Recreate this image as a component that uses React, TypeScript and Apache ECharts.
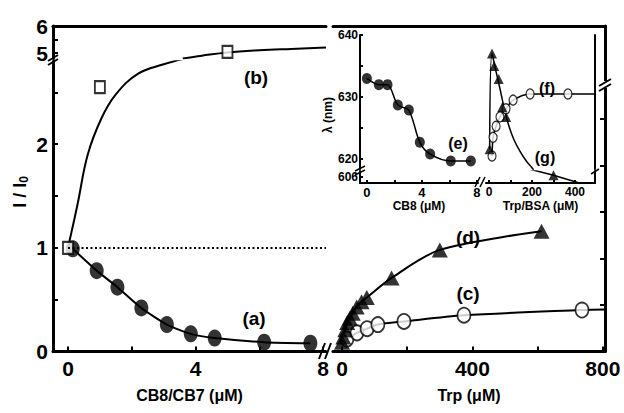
import React, { useEffect, useRef } from 'react';
import * as echarts from 'echarts';

// ---------- Main panel, left half: I/I0 vs CB8/CB7 (μM) ----------
const cbConcA = [0.15, 0.9, 1.55, 2.3, 3.1, 3.85, 4.6, 6.15, 7.6];
const seriesA = [0.99, 0.78, 0.62, 0.42, 0.26, 0.17, 0.13, 0.09, 0.08];
const cbConcB = [0, 1.0, 5.0];
const seriesB = [1, 2.55, 5.04];
const bFitLowerX = [0, 0.3, 0.62, 1.05, 1.5, 2.2, 3.0, 3.6];
const bFitLowerY = [1, 1.42, 1.9, 2.25, 2.48, 2.68, 2.77, 2.82];
const bFitUpperX = [3.6, 4.2, 5.0, 6.0, 7.0, 8.09];
const bFitUpperY = [4.8, 4.9, 5.02, 5.1, 5.15, 5.2];
const baseline = 1;

// ---------- Main panel, right half: I/I0 vs Trp (μM) ----------
const trpC = [15, 46, 77, 110, 190, 374, 736];
const seriesC = [0.12, 0.18, 0.22, 0.26, 0.29, 0.35, 0.40];
const cFitTailX = [806];
const cFitTailY = [0.405];
const trpD = [0, 4, 10, 16, 24, 33, 45, 60, 76, 152, 300, 612];
const seriesD = [0.09, 0.14, 0.21, 0.28, 0.32, 0.37, 0.43, 0.48, 0.52, 0.71, 0.98, 1.16];

// ---------- Inset: λ (nm) ----------
const cbConcE = [0, 0.87, 1.5, 2.25, 3.05, 3.85, 4.6, 6.1, 7.56];
const seriesE = [633, 632, 632, 628.7, 627.9, 622.7, 620.8, 619.7, 619.7];
const trpBsaF = [14, 19, 33, 51, 79, 112, 191, 367];
const seriesF = [620.5, 623.5, 625.3, 626.8, 628.1, 629.5, 630.5, 630.5];
const fFitTailX = [493];
const fFitTailY = [630.5];
const trpBsaG = [3, 14, 24, 45, 62, 80, 300];
const seriesG = [621.6, 637.0, 635.0, 632.9, 628.4, 626.8, 606.3];
const gFitUpperX = [3, 14, 30, 50, 70, 90, 115, 145, 175, 200, 210];
const gFitUpperY = [621.6, 637.0, 634.5, 631.5, 628.3, 625.6, 623.2, 621.2, 619.6, 618.6, 618.0];
const gFitLowerX = [190, 300, 420];
const gFitLowerY = [607.3, 606.3, 605.0];

// tick labels
const cbTicks = [0, 2, 4, 6, 8];
const cbLabels = [0, 4, 8];
const trpTicks = [0, 200, 400, 600, 800];
const trpLabels = [0, 400, 800];
const iLowTicks = [0, 0.5, 1, 1.5, 2, 2.5];
const iLowLabels = [0, 1, 2];
const iHighTicks = [5, 5.5, 6];
const iHighLabels = [5, 6];
const lamTicks = [620, 625, 630, 635, 640];
const lamLabels = [620, 630, 640];
const lamLowLabels = [606];
const insetCbTicks = [0, 2, 4, 6, 8];
const insetCbLabels = [0, 4, 8];
const insetTrpTicks = [0, 100, 200, 300, 400];
const insetTrpLabels = [0, 200, 400];

// axis ranges
const CB_MIN = -0.47, CB_MAX = 8.09;
const TRP_MIN = -27.6, TRP_MAX = 806.6;
const I_LOW_MAX = 2.8, I_HIGH_MIN = 4.8, I_HIGH_MAX = 6;
const LAM_MIN = 618.4, LAM_MAX = 640, LAM_LOW_MIN = 605, LAM_LOW_MAX = 607;
const ICB_MIN = -0.5, ICB_MAX = 8.08;
const ITRP_MIN = -14, ITRP_MAX = 493;

const FONT = '"Liberation Sans", Arial, sans-serif';
const K = '#000';

const zip = (xs: number[], ys: number[]) => xs.map((x, i) => [x, ys[i]]);

function axis(o: any) {
  const { lw = 3, tickLen = 5, ticks, labels, fs = 21, margin = 6, ...rest } = o;
  return {
    type: 'value',
    splitLine: { show: false },
    axisLine: { show: true, onZero: false, lineStyle: { color: K, width: lw } },
    axisTick: ticks
      ? { show: true, inside: true, length: tickLen, lineStyle: { color: K, width: 2 }, customValues: ticks }
      : { show: false },
    axisLabel: labels
      ? { show: true, customValues: labels, fontSize: fs, fontWeight: 'bold', color: K, fontFamily: FONT, margin }
      : { show: false },
    ...rest,
  };
}

const hidden = (gridIndex: number, min: number, max: number) => ({
  type: 'value', gridIndex, min, max, show: false, splitLine: { show: false },
});

const lineSeries = (xi: number, yi: number, data: number[][], width = 2, smooth: any = 0.3) => ({
  type: 'line', xAxisIndex: xi, yAxisIndex: yi, data, showSymbol: false, smooth,
  lineStyle: { color: K, width }, clip: true, silent: true, z: 2,
});

const scatter = (xi: number, yi: number, data: number[][], symbol: string, size: any, filled: boolean, bw = 2) => ({
  type: 'scatter', xAxisIndex: xi, yAxisIndex: yi, data, symbol, symbolSize: size, clip: true, silent: true, z: 3,
  itemStyle: filled ? { color: K } : { color: '#fff', borderColor: K, borderWidth: bw },
});

const inRange = (pts: number[][], lo: number, hi: number) => pts.filter((p) => p[1] >= lo && p[1] <= hi);

const txt = (x: number, y: number, text: string, size: number) => ({
  type: 'text', x, y, z: 10,
  style: { text, fontSize: size, fontWeight: 'bold', fontFamily: FONT, fill: K, align: 'center', verticalAlign: 'middle' },
});
const seg = (x1: number, y1: number, x2: number, y2: number, w = 2) => ({
  type: 'line', z: 10, shape: { x1, y1, x2, y2 }, style: { stroke: K, lineWidth: w },
});
const wrect = (x: number, y: number, width: number, height: number) => ({
  type: 'rect', z: 9, shape: { x, y, width, height }, style: { fill: '#fff' },
});

function buildOption() {
  const ptsA = zip(cbConcA, seriesA);
  const ptsB = zip(cbConcB, seriesB);
  const ptsC = zip(trpC, seriesC);
  const ptsD = zip(trpD, seriesD);
  const ptsE = zip(cbConcE, seriesE);
  const ptsF = zip(trpBsaF, seriesF);
  const ptsG = zip(trpBsaG, seriesG);
  const nameStyle = { fontSize: 16, fontWeight: 'bold', color: K, fontFamily: FONT };
  const insetName = { fontSize: 12, fontWeight: 'bold', color: K, fontFamily: FONT };

  return {
    animation: false,
    backgroundColor: '#fff',
    grid: [
      { left: 53, top: 61.2, width: 273, height: 290.3, outerBoundsMode: 'none' }, // 0 main lower-left
      { left: 53, top: 26, width: 273, height: 32.4, outerBoundsMode: 'none' }, // 1 main upper-left
      { left: 333, top: 61.2, width: 272, height: 290.3, outerBoundsMode: 'none' }, // 2 main lower-right
      { left: 333, top: 26, width: 272, height: 325.5, outerBoundsMode: 'none' }, // 3 right frame
      { left: 360, top: 35, width: 118, height: 134, outerBoundsMode: 'none' }, // 4 inset left upper
      { left: 360, top: 171, width: 118, height: 12, outerBoundsMode: 'none' }, // 5 inset left lower
      { left: 486, top: 35, width: 109, height: 134, outerBoundsMode: 'none' }, // 6 inset right upper
      { left: 486, top: 171, width: 109, height: 12, outerBoundsMode: 'none' }, // 7 inset right lower
    ],
    xAxis: [
      axis({ gridIndex: 0, min: CB_MIN, max: CB_MAX, position: 'bottom', ticks: cbTicks, labels: cbLabels,
        name: 'CB8/CB7 (μM)', nameLocation: 'middle', nameGap: 36, nameTextStyle: nameStyle }),
      axis({ gridIndex: 1, min: CB_MIN, max: CB_MAX, position: 'top' }),
      axis({ gridIndex: 2, min: TRP_MIN, max: TRP_MAX, position: 'bottom', ticks: trpTicks, labels: trpLabels,
        name: 'Trp (μM)', nameLocation: 'middle', nameGap: 36, nameTextStyle: nameStyle }),
      axis({ gridIndex: 3, min: 0, max: 1, position: 'top' }),
      hidden(4, ICB_MIN, ICB_MAX),
      axis({ gridIndex: 5, min: ICB_MIN, max: ICB_MAX, position: 'bottom', lw: 2, tickLen: 3, ticks: insetCbTicks,
        labels: insetCbLabels, fs: 13, margin: 3, name: 'CB8 (μM)', nameLocation: 'middle', nameGap: 17, nameTextStyle: insetName }),
      hidden(6, ITRP_MIN, ITRP_MAX),
      axis({ gridIndex: 7, min: ITRP_MIN, max: ITRP_MAX, position: 'bottom', lw: 2, tickLen: 3, ticks: insetTrpTicks,
        labels: insetTrpLabels, fs: 12, margin: 3, name: 'Trp/BSA (μM)', nameLocation: 'middle', nameGap: 17, nameTextStyle: insetName }),
    ],
    yAxis: [
      axis({ gridIndex: 0, min: 0, max: I_LOW_MAX, position: 'left', ticks: iLowTicks, labels: iLowLabels, margin: 5 }),
      axis({ gridIndex: 1, min: I_HIGH_MIN, max: I_HIGH_MAX, position: 'left', ticks: iHighTicks, labels: iHighLabels, margin: 5 }),
      hidden(2, 0, I_LOW_MAX),
      axis({ gridIndex: 3, min: 0, max: 7, position: 'right', ticks: [1, 2, 3, 4, 5] }),
      axis({ gridIndex: 4, min: LAM_MIN, max: LAM_MAX, position: 'left', lw: 2, tickLen: 3, ticks: lamTicks, labels: lamLabels, fs: 12, margin: 2 }),
      axis({ gridIndex: 5, min: LAM_LOW_MIN, max: LAM_LOW_MAX, position: 'left', lw: 2, tickLen: 3, ticks: lamLowLabels, labels: lamLowLabels, fs: 12, margin: 2 }),
      axis({ gridIndex: 6, min: LAM_MIN, max: LAM_MAX, position: 'right', lw: 2 }),
      axis({ gridIndex: 7, min: LAM_LOW_MIN, max: LAM_LOW_MAX, position: 'right', lw: 2 }),
    ],
    series: [
      // (a)
      {
        ...lineSeries(0, 0, ptsA, 2, 0.2),
        markLine: {
          silent: true, symbol: 'none', label: { show: false },
          lineStyle: { color: K, width: 2, type: [2, 2.5] },
          data: [[{ coord: [0, baseline] }, { coord: [CB_MAX, baseline] }]],
        },
      },
      scatter(0, 0, ptsA, 'circle', [14, 17], true),
      // (b)
      lineSeries(0, 0, zip(bFitLowerX, bFitLowerY), 2, 0.4),
      lineSeries(1, 1, zip(bFitUpperX, bFitUpperY), 2, 0.4),
      scatter(0, 0, inRange(ptsB, 0, I_LOW_MAX), 'rect', [10, 12], false),
      scatter(1, 1, inRange(ptsB, I_HIGH_MIN, I_HIGH_MAX), 'rect', [10, 12], false),
      // (c)
      lineSeries(2, 2, [...ptsC, ...zip(cFitTailX, cFitTailY)], 2, 0.3),
      scatter(2, 2, ptsC, 'circle', [13, 15], false, 1.8),
      // (d)
      lineSeries(2, 2, ptsD, 2, 0.3),
      scatter(2, 2, ptsD, 'triangle', [16, 15], true),
      // (e)
      lineSeries(4, 4, ptsE, 1.5, 0.3),
      scatter(4, 4, ptsE, 'circle', [10, 11], true),
      // (f)
      lineSeries(6, 6, [...ptsF, ...zip(fFitTailX, fFitTailY)], 1.5, 0.3),
      scatter(6, 6, ptsF, 'circle', [8, 10], false, 1.3),
      // (g)
      lineSeries(6, 6, zip(gFitUpperX, gFitUpperY), 1.5, 0.4),
      lineSeries(7, 7, zip(gFitLowerX, gFitLowerY), 1.5, 0),
      scatter(6, 6, inRange(ptsG, LAM_MIN, LAM_MAX), 'triangle', [10, 10], true),
      scatter(7, 7, inRange(ptsG, LAM_LOW_MIN, LAM_LOW_MAX), 'triangle', [10, 10], true),
    ],
    graphic: [
      // y-axis title
      {
        type: 'text', x: 20, y: 192, rotation: Math.PI / 2, z: 10,
        style: {
          text: '{m|I / I}{s|0}', align: 'center', verticalAlign: 'middle', fill: K,
          rich: {
            m: { fontSize: 18, fontWeight: 'bold', fontFamily: FONT, fill: K, lineHeight: 20 },
            s: { fontSize: 12, fontWeight: 'bold', fontFamily: FONT, fill: K, lineHeight: 20, verticalAlign: 'bottom', padding: [8, 0, 0, 0] },
          },
        },
      },
      {
        type: 'text', x: 328, y: 115, rotation: Math.PI / 2, z: 10,
        style: { text: 'λ (nm)', fontSize: 12, fontWeight: 'bold', fontFamily: FONT, fill: K, align: 'center', verticalAlign: 'middle' },
      },
      // curve labels
      txt(254, 318, '(a)', 19),
      txt(256, 77, '(b)', 19),
      txt(468, 293, '(c)', 19),
      txt(468, 237, '(d)', 19),
      txt(458, 143, '(e)', 16),
      txt(547, 88, '(f)', 16),
      txt(545, 157, '(g)', 16),
      // axis breaks
      seg(48, 61, 58, 55), seg(48, 65, 58, 59),
      seg(319, 359, 325, 343), seg(325, 359, 331, 343),
      wrect(600, 81, 10, 7),
      seg(599, 86, 611, 79), seg(599, 91, 611, 84),
      seg(355, 171, 365, 166, 1.5), seg(355, 175, 365, 170, 1.5),
      seg(475, 187, 480, 177, 1.5), seg(480, 187, 485, 177, 1.5),
      seg(591, 174, 599, 169, 1.5),
    ],
  };
}

export default function App() {
  const ref = useRef<HTMLDivElement>(null);
  useEffect(() => {
    if (!ref.current) return;
    const chart = echarts.init(ref.current, null, { renderer: 'svg' });
    chart.setOption(buildOption() as any);
    return () => chart.dispose();
  }, []);
  return (
    <div
      ref={ref}
      style={{ position: 'fixed', left: 0, top: 0, width: 624, height: 413, background: '#fff' }}
    />
  );
}
